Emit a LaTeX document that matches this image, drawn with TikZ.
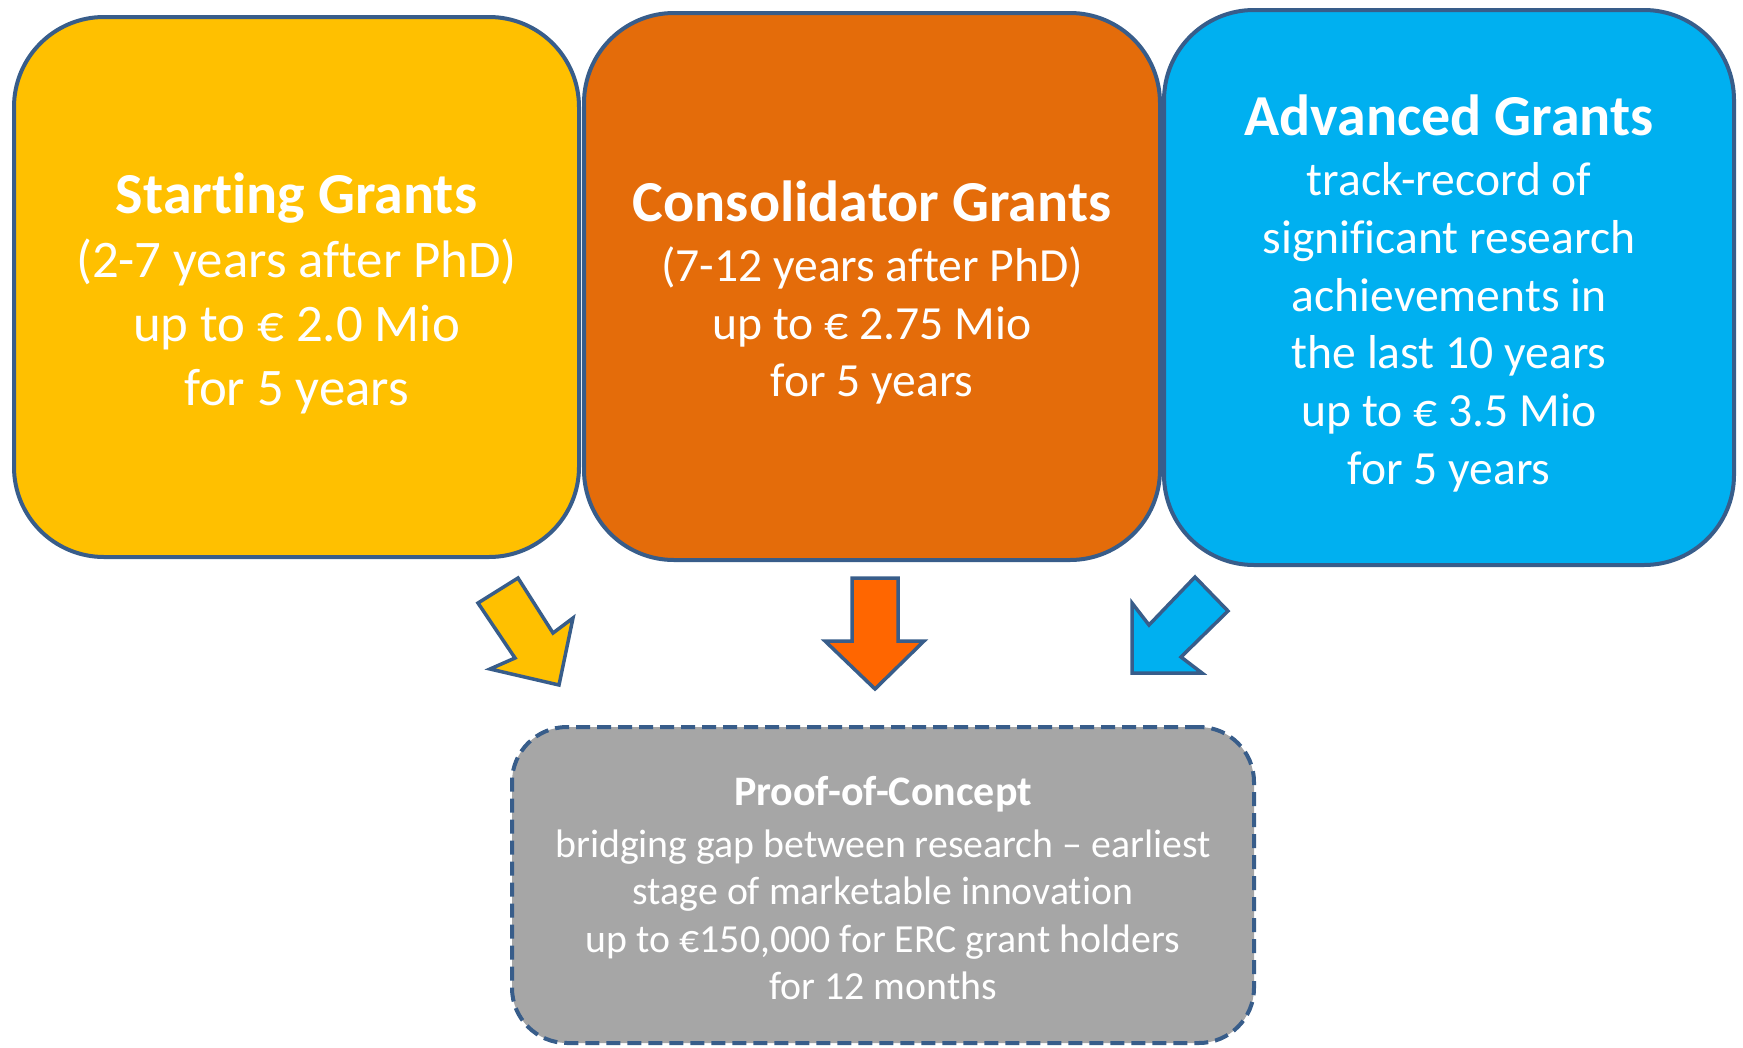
\documentclass[tikz,border=0pt]{standalone}
\usepackage{fontspec}
\setmainfont{Carlito}[Ligatures=NoCommon]
\definecolor{edge}{HTML}{385D8A}
\definecolor{startcol}{HTML}{FFC000}
\definecolor{consolcol}{HTML}{E46C0A}
\definecolor{advcol}{HTML}{00B0F0}
\definecolor{poccol}{HTML}{A6A6A6}
\definecolor{arrowor}{HTML}{FF6600}
\tikzset{
	grant/.style={draw=edge, line width=4pt, rounded corners=90pt, inner sep=0pt},
	pocbox/.style={draw=edge, line width=4pt, rounded corners=55pt, dash pattern=on 14pt off 7pt, fill=poccol, inner sep=0pt},
	granttext/.style={text=white, align=center, inner sep=0pt},
	blockarrow/.style={draw=edge, line width=3.5pt, line join=miter},
}
\newcommand{\granttitle}[1]{{\bfseries\fontsize{58}{66}\selectfont #1}}

\begin{document}
\begin{tikzpicture}[x=1pt, y=-1pt]
	\useasboundingbox (0,0) rectangle (1743,1047);

	\node[grant, fill=startcol, minimum width=565pt, minimum height=540pt] (sg) at (296.5,287) {};
	\node[grant, fill=consolcol, minimum width=576pt, minimum height=547pt] (cg) at (872,286.5) {};
	\node[grant, fill=advcol, minimum width=570pt, minimum height=555pt] (ag) at (1449,287.5) {};
	\node[pocbox, minimum width=742pt, minimum height=316pt] (poc) at (883,885) {};

	\node[granttext, font=\fontsize{52.8}{64}\selectfont] (sgtext) at ([yshift=-6pt]sg.center)
		{\granttitle{Starting Grants}\\(2-7 years after PhD)\\up to € 2.0 Mio\\for 5 years};
	\node[granttext, font=\fontsize{47.6}{57.5}\selectfont] (cgtext) at ([yshift=-6pt]cg.center)
		{\granttitle{Consolidator Grants}\\[3pt](7-12 years after PhD)\\up to € 2.75 Mio\\for 5 years};
	\node[granttext, font=\fontsize{47.6}{57.7}\selectfont] (agtext) at ([yshift=-6pt]ag.center)
		{\granttitle{Advanced Grants}\\[2pt]track-record of\\significant research\\achievements in\\the last 10 years\\up to € 3.5 Mio\\for 5 years};
	\node[granttext, font=\fontsize{39.8}{47.5}\selectfont] (poctext) at ([yshift=-3.5pt]poc.center)
		{{\bfseries\fontsize{42}{50}\selectfont Proof-of-Concept}\\[4pt]bridging gap between research – earliest\\stage of marketable innovation\\up to €150,000 for ERC grant holders\\for 12 months};

	\draw[blockarrow, fill=startcol] (518,578) -- (478,603) -- (515,658) -- (490,669) -- (559,685) -- (573,618) -- (553,633) -- cycle;
	\draw[blockarrow, fill=arrowor] (852,578) -- (898,578) -- (898,641) -- (924,641) -- (875,689) -- (825,641) -- (852,641) -- cycle;
	\draw[blockarrow, fill=advcol] (1195,577) -- (1228,611) -- (1181,657) -- (1202,673) -- (1132,673) -- (1132,603) -- (1149,625) -- cycle;
\end{tikzpicture}
\end{document}
